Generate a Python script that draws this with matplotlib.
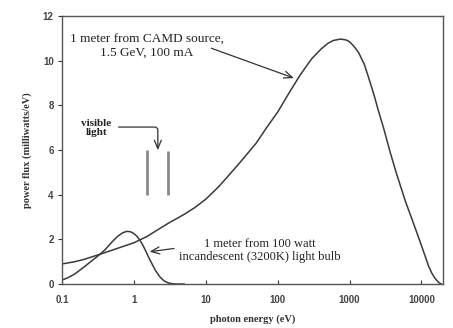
import matplotlib
matplotlib.use("Agg")
import matplotlib.pyplot as plt
from matplotlib.ticker import FixedLocator, FixedFormatter, NullLocator

# Synchrotron (CAMD) power flux, milliwatts/eV
sync_e = [0.1, 0.15, 0.2, 0.3, 0.5, 0.7, 1, 1.5, 2, 3, 5, 7, 10, 15, 20, 30, 50, 70, 100,
          150, 200, 250, 300, 400, 500, 600, 750, 900, 1000, 1150, 1330, 1600, 1820, 2200,
          2500, 3000, 3700, 4500, 6000, 7500, 9100, 11000, 12600, 14000, 15500, 17500, 19000]
sync_p = [0.9, 1.0, 1.1, 1.28, 1.52, 1.68, 1.85, 2.12, 2.37, 2.72, 3.12, 3.42, 3.8, 4.35, 4.8,
          5.45, 6.3, 7.0, 7.7, 8.65, 9.3, 9.75, 10.1, 10.52, 10.78, 10.91, 10.97, 10.93, 10.85,
          10.65, 10.38, 9.85, 9.3, 8.45, 7.8, 6.95, 5.87, 4.95, 3.7, 2.85, 2.1, 1.35, 0.8,
          0.48, 0.25, 0.06, 0.0]

# 100 W incandescent bulb (3200 K) at 1 meter
bulb_e = [0.1, 0.12, 0.15, 0.2, 0.25, 0.3, 0.35, 0.4, 0.5, 0.6, 0.7, 0.8, 0.9, 1.0, 1.1, 1.2,
          1.3, 1.4, 1.5, 1.6, 1.8, 2.0, 2.3, 2.6, 3.0, 3.5, 4.0, 5.0]
bulb_p = [0.18, 0.28, 0.45, 0.75, 1.0, 1.2, 1.38, 1.55, 1.9, 2.15, 2.3, 2.36, 2.34, 2.26, 2.14,
          1.98, 1.8, 1.6, 1.4, 1.2, 0.88, 0.6, 0.32, 0.15, 0.05, 0.01, 0.0, 0.0]

# visible light band markers
vis_e = [1.5, 3.0]
vis_lo = [4.0, 4.0]
vis_hi = [6.0, 5.95]

xticks = [0.1, 1, 10, 100, 1000, 10000]
xticklabels = ["0.1", "1", "10", "100", "1000", "10000"]
yticks = [0, 2, 4, 6, 8, 10, 12]

serif = ["Liberation Serif", "DejaVu Serif"]

fig = plt.figure(figsize=(4.53, 3.28), dpi=100)
ax = fig.add_axes([0.137, 0.134, 0.841, 0.817])

ax.plot(sync_e, sync_p, color="#3a3a3a", lw=1.1)
ax.plot(bulb_e, bulb_p, color="#3a3a3a", lw=1.1)
for e, lo, hi in zip(vis_e, vis_lo, vis_hi):
    ax.plot([e, e], [lo, hi], color="#8a8a8a", lw=2.0, solid_capstyle="butt")

ax.set_xscale("log")
ax.set_xlim(0.1, 20000)
ax.set_ylim(0, 12)
ax.xaxis.set_major_locator(FixedLocator(xticks))
ax.xaxis.set_major_formatter(FixedFormatter(xticklabels))
ax.xaxis.set_minor_locator(NullLocator())
ax.set_yticks(yticks)
ax.tick_params(axis="x", direction="in", length=3, labelsize=7, pad=8, colors="#333333")
ax.tick_params(axis="y", direction="out", length=3, labelsize=7, pad=3, colors="#333333")
for lab in ax.get_xticklabels() + ax.get_yticklabels():
    lab.set_fontfamily(["Liberation Sans", "DejaVu Sans"])
    lab.set_fontweight("bold")
    lab.set_color("#444444")
for s in ax.spines.values():
    s.set_color("#555555")
    s.set_linewidth(1.0)

ax.set_xlabel("photon energy (eV)", family=serif, fontsize=7.5, fontweight="bold",
              color="#333333", labelpad=7)
ax.set_ylabel("power flux (milliwatts/eV)", family=serif, fontsize=7.5, fontweight="bold",
              color="#333333", labelpad=8)

ax.text(1.5, 10.65, "1 meter from CAMD source,\n1.5 GeV, 100 mA", family=serif,
        fontsize=9.5, ha="center", va="center", color="#222222", linespacing=1.15)
ax.annotate("", xy=(183, 9.18), xytext=(11, 10.6),
            arrowprops=dict(arrowstyle="->,head_length=0.6,head_width=0.25",
                            color="#333333", lw=0.9))

ax.text(57, 1.52, "1 meter from 100 watt\nincandescent (3200K) light bulb", family=serif,
        fontsize=9, ha="center", va="center", color="#222222", linespacing=1.1)
ax.annotate("", xy=(1.51, 1.43), xytext=(3.95, 1.61),
            arrowprops=dict(arrowstyle="->,head_length=0.6,head_width=0.25",
                            color="#333333", lw=0.9))

ax.text(0.30, 7.0, "visible\nlight", family=serif, fontsize=8, fontweight="bold",
        ha="center", va="center", color="#222222", linespacing=1.0)
ax.annotate("", xy=(2.15, 5.87), xytext=(0.56, 7.03),
            arrowprops=dict(arrowstyle="->,head_length=0.6,head_width=0.25",
                            color="#333333", lw=0.9,
                            connectionstyle="angle,angleA=0,angleB=90,rad=3"))

fig.savefig("out.png", dpi=100)
